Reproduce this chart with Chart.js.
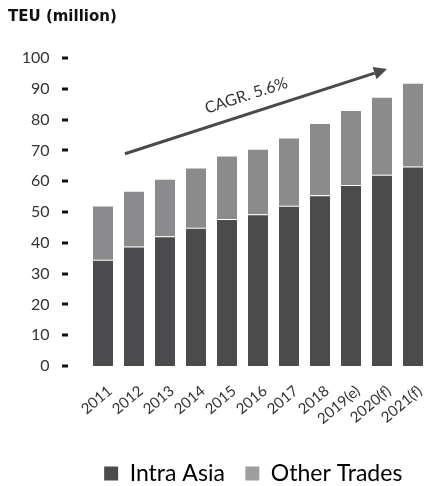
<!DOCTYPE html>
<html>
<head>
<meta charset="utf-8">
<script src="https://cdn.jsdelivr.net/npm/chart.js@4/dist/chart.umd.min.js"></script>
<style>
  html,body{margin:0;padding:0;background:#fff;}
  #wrap{width:435px;height:486px;position:relative;}
</style>
</head>
<body>
<div id="wrap"><canvas id="c" width="435" height="486"></canvas></div>
<script>
const categories = ['2011','2012','2013','2014','2015','2016','2017','2018','2019(e)','2020(f)','2021(f)'];
const intraAsia   = [34.5, 38.8, 42.1, 44.9, 47.7, 49.3, 52.0, 55.4, 58.8, 62.1, 64.8];
const otherTrades = [17.3, 17.8, 18.4, 19.2, 20.3, 20.9, 21.9, 23.2, 24.0, 25.0, 26.8];
const yTicks = [0,10,20,30,40,50,60,70,80,90,100];
const cagrLabel = 'CAGR. 5.6%';
// arrow annotation in data units: [category index, value]
const arrowStart = [0.71, 68.9];
const arrowEnd   = [9.16, 96.4];
const cagrTextAt = [4.62, 87.8];

const DARK = '#4b4b4d';
const GREY = '#8b8b8e';
const GREY_LEGEND = '#9e9ea0';

const legendShift = {
  id: 'legendShift',
  afterLayout(chart) {
    const lg = chart.legend;
    if (lg) { lg.left += 35; lg.right += 35; }
  }
};

const annot = {
  id: 'annot',
  afterDraw(chart) {
    const {ctx, chartArea, scales:{x, y}} = chart;
    ctx.save();
    // y tick dashes
    ctx.fillStyle = '#111';
    yTicks.forEach(v => {
      const py = y.getPixelForValue(v);
      ctx.fillRect(Math.round(chartArea.left - 25.5), Math.round(py) - 1.5, 6, 3);
    });
    // arrow
    const x0 = x.getPixelForValue(arrowStart[0]), y0 = y.getPixelForValue(arrowStart[1]);
    const x1 = x.getPixelForValue(arrowEnd[0]),   y1 = y.getPixelForValue(arrowEnd[1]);
    const ang = Math.atan2(y1 - y0, x1 - x0);
    const head = 13, hw = 6.5;
    const bx = x1 - head * Math.cos(ang), by = y1 - head * Math.sin(ang);
    ctx.strokeStyle = '#4a4a4c';
    ctx.lineWidth = 3;
    ctx.beginPath();
    ctx.moveTo(x0, y0);
    ctx.lineTo(bx, by);
    ctx.stroke();
    ctx.fillStyle = '#4a4a4c';
    ctx.beginPath();
    ctx.moveTo(x1, y1);
    ctx.lineTo(bx + hw * Math.sin(ang), by - hw * Math.cos(ang));
    ctx.lineTo(bx - hw * Math.sin(ang), by + hw * Math.cos(ang));
    ctx.closePath();
    ctx.fill();
    // label
    const tx = x.getPixelForValue(cagrTextAt[0]), ty = y.getPixelForValue(cagrTextAt[1]);
    ctx.translate(tx, ty);
    ctx.rotate(ang);
    ctx.fillStyle = '#333';
    ctx.font = '16px Lato';
    ctx.textAlign = 'center';
    ctx.textBaseline = 'middle';
    ctx.fillText(cagrLabel, 0, 0);
    ctx.restore();
  }
};

new Chart(document.getElementById('c'), {
  type: 'bar',
  data: {
    labels: categories,
    datasets: [
      {
        label: 'Intra Asia',
        data: intraAsia,
        backgroundColor: DARK,
        borderColor: '#ffffff',
        borderWidth: {top: 1, right: 0, bottom: 0, left: 0},
        borderSkipped: false,
        categoryPercentage: 1,
        barPercentage: 0.645
      },
      {
        label: 'Other Trades',
        data: otherTrades,
        backgroundColor: GREY,
        borderWidth: 0,
        categoryPercentage: 1,
        barPercentage: 0.645
      }
    ]
  },
  options: {
    responsive: false,
    animation: false,
    devicePixelRatio: 1,
    layout: {padding: {left: 8, right: 6.5, top: 0, bottom: -9}},
    plugins: {
      title: {
        display: true,
        text: 'TEU (million)',
        align: 'start',
        color: '#111',
        font: {family: 'DejaVu Sans', size: 15, weight: 'bold'},
        padding: {top: 8, bottom: 32}
      },
      legend: {
        display: true,
        position: 'bottom',
        labels: {
          color: '#222',
          font: {family: 'Lato', size: 23},
          boxWidth: 14,
          boxHeight: 14,
          padding: 20.5,
          generateLabels(chart) {
            return chart.data.datasets.map((ds, i) => ({
              text: ds.label,
              fillStyle: i === 0 ? DARK : GREY_LEGEND,
              strokeStyle: i === 0 ? DARK : GREY_LEGEND,
              lineWidth: 0,
              datasetIndex: i,
              hidden: false
            }));
          }
        }
      },
      tooltip: {enabled: false}
    },
    scales: {
      x: {
        stacked: true,
        offset: true,
        grid: {display: false, drawTicks: false},
        border: {display: false},
        afterFit(scale) { scale.height = 75.5; scale.paddingLeft = 0; scale.paddingRight = 0; },
        ticks: {
          color: '#333',
          font: {family: 'Lato', size: 15},
          minRotation: 40,
          maxRotation: 40,
          padding: 16,
          labelOffset: 7,
          autoSkip: false
        }
      },
      y: {
        stacked: true,
        min: 0,
        max: 100,
        afterBuildTicks(scale) { scale.ticks = yTicks.map(v => ({value: v})); },
        afterFit(scale) { scale.width = 79.5; },
        grid: {display: false, drawTicks: false},
        border: {display: false},
        ticks: {
          color: '#333',
          font: {family: 'Lato', size: 16},
          padding: 38
        }
      }
    }
  },
  plugins: [annot, legendShift]
});
</script>
</body>
</html>
